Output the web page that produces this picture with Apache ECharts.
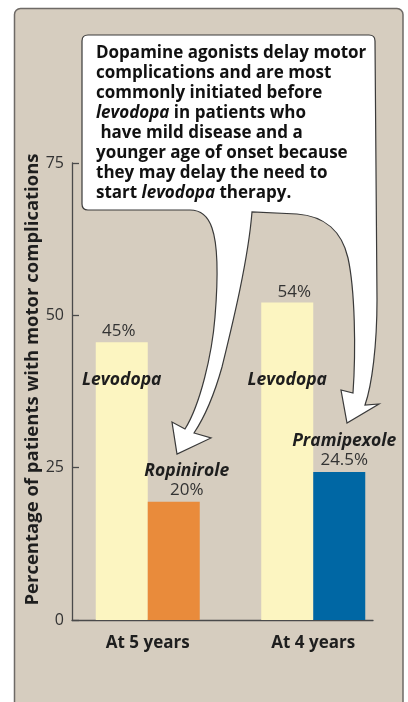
<!DOCTYPE html>
<html>
<head>
<meta charset="utf-8">
<script src="https://cdn.jsdelivr.net/npm/echarts@6/dist/echarts.min.js"></script>
<style>
  html, body { margin: 0; padding: 0; background: #ffffff; }
  #chart { width: 408px; height: 702px; }
</style>
</head>
<body>
<div id="chart"></div>
<script>
// ---- data ----
var categories = ['At 5 years', 'At 4 years'];
var levodopaValues = [45.6, 52.1];
var levodopaLabels = ['45%', '54%'];
var agonistNames = ['Ropinirole', 'Pramipexole'];
var agonistValues = [19.4, 24.3];
var agonistLabels = ['20%', '24.5%'];
var yTicks = [0, 25, 50, 75];
var yAxisTitle = 'Percentage of patients with motor complications';
var calloutLines = [
  'Dopamine agonists delay motor',
  'complications and are most',
  'commonly initiated before',
  '{i|levodopa} in patients who',
  ' have mild disease and a',
  'younger age of onset because',
  'they may delay the need to',
  'start {i|levodopa} therapy.'
];

// ---- styles ----
var FONT = '"Open Sans", "DejaVu Sans", sans-serif';
var PANEL = '#d6cdbf';
var levodopaColor = '#fcf5c1';
var agonistColors = ['#e98b3b', '#0067a4'];
var levodopaLabelOffsets = [[-3, 0], [7, 0]];
var agonistLabelOffsets = [[13, 0], [5, 0]];

var chart = echarts.init(document.getElementById('chart'), null, { renderer: 'canvas' });

var calloutPath =
  'M 88 35 L 369 35 Q 375 35 375 41 L 377 300 ' +
  'C 377 345 372 385 365 405 L 379 404 L 347 423 L 341 390 L 353 393 ' +
  'C 356 350 355 290 348 258 C 342 232 325 216 297 214 L 252 212 ' +
  'C 248 262 231 330 222 367 C 215 392 204 418 194 433 ' +
  'L 211 438 L 177 454 L 172 422 L 185 429 ' +
  'C 200 405 212 355 215 317 C 218 280 218 245 212 228 ' +
  'Q 206 210 190 210 L 88 210 Q 82 210 82 204 L 82 41 Q 82 35 88 35 Z';

var option = {
  backgroundColor: '#ffffff',
  animation: false,
  textStyle: { fontFamily: FONT },
  graphic: [
    {
      type: 'rect', z: -5,
      shape: { x: 14.5, y: 8.5, width: 388.5, height: 740, r: 6 },
      style: { fill: PANEL, stroke: '#6e6a66', lineWidth: 1.5 }
    }
  ],
  grid: [
    { left: 72, top: 163, width: 301, height: 457, containLabel: false },
    { left: 65, top: 163, width: 331, height: 457, containLabel: false }
  ],
  xAxis: [
    {
      gridIndex: 0, type: 'value', min: 0, max: 1,
      axisLine: { show: true, lineStyle: { color: '#4a4a4a', width: 1.3 } },
      axisTick: { show: false }, axisLabel: { show: false }, splitLine: { show: false }
    },
    {
      gridIndex: 1, type: 'category', data: categories,
      axisLine: { show: false }, axisTick: { show: false },
      axisLabel: { show: true, margin: 15, fontSize: 17, fontWeight: 'bold', color: '#1e1e1e', fontFamily: FONT }
    },
    {
      gridIndex: 1, type: 'category', data: categories, show: false
    }
  ],
  yAxis: [
    {
      gridIndex: 0, type: 'value', min: yTicks[0], max: yTicks[yTicks.length - 1], interval: 25,
      name: yAxisTitle, nameLocation: 'middle', nameGap: 30, nameMoveOverlap: false,
      nameTextStyle: { fontSize: 18.5, fontWeight: 'bold', color: '#1e1e1e', fontFamily: FONT, padding: [0, 0, 0, 24] },
      axisLine: { show: true, lineStyle: { color: '#4a4a4a', width: 1.3 } },
      axisTick: { show: true, inside: true, length: 7, lineStyle: { color: '#4a4a4a', width: 1.3 } },
      axisLabel: { fontSize: 16, color: '#333333', margin: 8, fontFamily: FONT },
      splitLine: { show: false }
    },
    {
      gridIndex: 1, type: 'value', min: yTicks[0], max: yTicks[yTicks.length - 1], show: false
    }
  ],
  series: [
    {
      name: 'Levodopa', type: 'bar', xAxisIndex: 1, yAxisIndex: 1,
      barWidth: 52, barGap: 0,
      itemStyle: { color: levodopaColor },
      data: levodopaValues.map(function (v, i) {
        return { value: v, label: { offset: levodopaLabelOffsets[i] } };
      }),
      label: {
        show: true, position: 'top', distance: 2,
        fontSize: 17, color: '#333333', fontFamily: FONT,
        formatter: function (p) { return levodopaLabels[p.dataIndex]; }
      }
    },
    {
      name: 'Dopamine agonist', type: 'bar', xAxisIndex: 1, yAxisIndex: 1,
      barWidth: 52, barGap: 0,
      data: agonistValues.map(function (v, i) {
        return { value: v, itemStyle: { color: agonistColors[i] }, label: { offset: agonistLabelOffsets[i] } };
      }),
      label: {
        show: true, position: 'top', distance: 2,
        formatter: function (p) {
          return '{n|' + agonistNames[p.dataIndex] + '}\n{p|' + agonistLabels[p.dataIndex] + '}';
        },
        rich: {
          n: { fontSize: 17.5, fontWeight: 'bold', fontStyle: 'italic', color: '#1e1e1e', fontFamily: FONT, lineHeight: 20 },
          p: { fontSize: 17, color: '#333333', fontFamily: FONT, lineHeight: 19 }
        }
      }
    },
    {
      name: 'Levodopa name', type: 'bar', xAxisIndex: 2, yAxisIndex: 1,
      barWidth: 52, barGap: 0, silent: true,
      itemStyle: { color: 'rgba(0,0,0,0)' },
      data: levodopaValues.slice(),
      label: {
        show: true, position: 'insideBottom', distance: 231,
        fontSize: 17.5, fontWeight: 'bold', fontStyle: 'italic', color: '#1e1e1e', fontFamily: FONT,
        formatter: 'Levodopa'
      }
    },
    {
      name: 'placeholder', type: 'bar', xAxisIndex: 2, yAxisIndex: 1,
      barWidth: 52, barGap: 0, silent: true,
      data: ['-', '-']
    },
    {
      name: 'callout', type: 'custom', coordinateSystem: 'none', z: 50, silent: true,
      data: [0],
      renderItem: function () {
        return {
          type: 'group',
          children: [
            {
              type: 'path',
              shape: { pathData: calloutPath },
              style: { fill: '#ffffff', stroke: '#3a3a3a', lineWidth: 1.2 }
            },
            {
              type: 'text', x: 96, y: 43,
              style: {
                text: calloutLines.join('\n'),
                fill: '#111111',
                font: 'bold 17px ' + FONT,
                lineHeight: 20,
                rich: {
                  i: { fontStyle: 'italic', fontWeight: 'bold', fontSize: 17, fontFamily: FONT, fill: '#111111', lineHeight: 20 }
                }
              }
            }
          ]
        };
      }
    }
  ]
};

chart.setOption(option);
</script>
</body>
</html>
